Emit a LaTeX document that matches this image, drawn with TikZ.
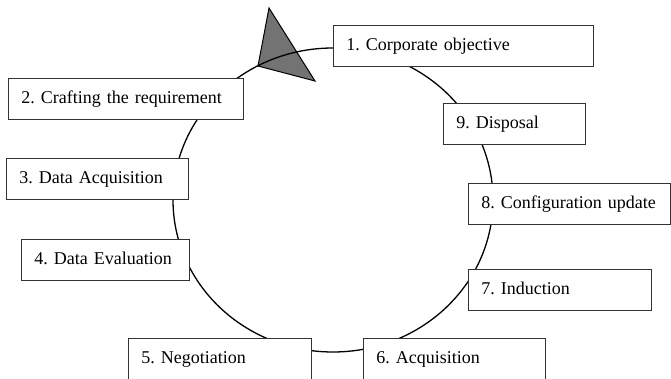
\documentclass[tikz,border=0pt]{standalone}
\usepackage{fontspec}
\setmainfont{Liberation Serif}
\usetikzlibrary{shapes.geometric}
\tikzset{
  stagebox/.style={draw=black!80, line width=0.9pt, fill=white, rectangle,
    anchor=north west, minimum height=41pt, inner xsep=13pt, inner ysep=0pt,
    text height=13pt, text depth=4pt, align=left,
    font=\fontsize{18}{22}\selectfont\frenchspacing},
  cycleline/.style={draw=black, line width=1.3pt},
  marker/.style={draw=black, line width=1pt, fill=black!55}
}
\begin{document}
\begin{tikzpicture}[x=1pt,y=-1pt]
\useasboundingbox (0,0) rectangle (671,379);
\clip (0,0) rectangle (671,379);
\fill[white] (0,0) rectangle (671,379);
% marker triangle
\coordinate (t1) at (269,8);
\coordinate (t2) at (258,66);
\coordinate (t3) at (315,81);
\draw[marker] (t1) -- (t2) -- (t3) -- cycle;
% cycle
\node[cycleline, ellipse, minimum width=320pt, minimum height=304pt, inner sep=0pt] (cyc) at (333,200) {};
% stages
\node[stagebox, text width=234pt] (s1) at (333,25) {\mbox{1. Corporate objective}};
\node[stagebox, text width=209pt] (s2) at (8,78) {\mbox{2. Crafting the requirement}};
\node[stagebox, text width=156pt] (s3) at (6,158) {\mbox{3. Data Acquisition}};
\node[stagebox, text width=142pt] (s4) at (21,239) {\mbox{4. Data Evaluation}};
\node[stagebox, text width=157pt] (s5) at (128,338) {\mbox{5. Negotiation}};
\node[stagebox, text width=156pt] (s6) at (363,338) {\mbox{6. Acquisition}};
\node[stagebox, text width=157pt] (s7) at (468,269) {\mbox{7. Induction}};
\node[stagebox, text width=176pt] (s8) at (468,183) {\mbox{8. Configuration update}};
\node[stagebox, text width=116pt] (s9) at (443,103) {\mbox{9. Disposal}};
\end{tikzpicture}
\end{document}
